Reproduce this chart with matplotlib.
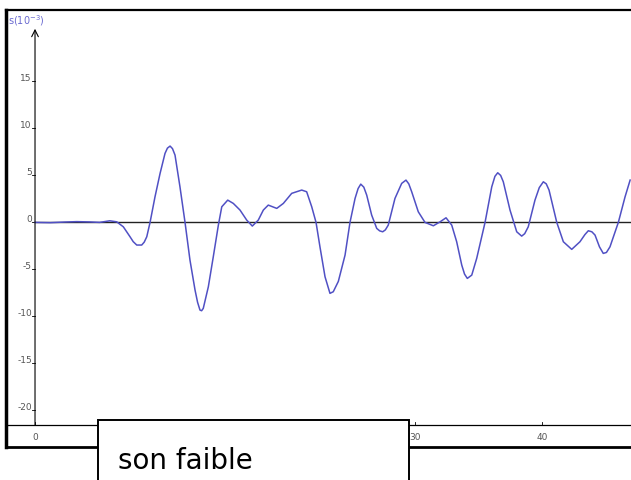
import matplotlib
matplotlib.use("Agg")
import matplotlib.pyplot as plt
from matplotlib.patches import Rectangle

# signal s (x 10^-3) against time, read point by point
t = [0, 1.2, 2.4, 3.3, 4.3, 5.1, 5.9, 6.45, 6.97, 7.50, 7.75, 8.03, 8.42, 8.62,
     8.82, 9.08, 9.47, 9.87, 10.26, 10.45, 10.66, 10.85, 11.05, 11.44, 11.84,
     12.23, 12.63, 12.83, 13.02, 13.15, 13.28, 13.68, 14.07, 14.47, 14.74, 15.21,
     15.65, 16.18, 16.71, 17.15, 17.62, 18.02, 18.41, 19.08, 19.60, 20.26, 21.05,
     21.44, 21.84, 22.18, 22.49, 22.89, 23.28, 23.54, 23.94, 24.47, 24.86, 25.26,
     25.5, 25.71, 25.95, 26.18, 26.57, 26.97, 27.2, 27.44, 27.65, 27.88, 28.41,
     28.94, 29.28, 29.5, 29.73, 30.25, 30.78, 31.44, 31.97, 32.44, 32.89, 33.28,
     33.68, 33.9, 34.12, 34.47, 34.86, 35.52, 36.05, 36.3, 36.52, 36.75, 36.96,
     37.49, 38.02, 38.41, 38.65, 38.93, 39.46, 39.8, 40.12, 40.35, 40.57, 41.18,
     41.70, 42.36, 43.01, 43.4, 43.67, 43.95, 44.20, 44.55, 44.85, 45.1, 45.38,
     46.04, 46.57, 46.97]
s = [0, -0.03, 0.04, 0.08, 0.05, 0.0, 0.17, 0.06, -0.47, -1.53, -2.05, -2.41,
     -2.41, -2.1, -1.53, 0, 2.72, 5.21, 7.34, 7.9, 8.12, 7.85, 7.16, 3.79, 0,
     -4.01, -7.20, -8.5, -9.33, -9.4, -9.15, -6.85, -3.66, -0.3, 1.66, 2.37,
     2.02, 1.31, 0.24, -0.39, 0.24, 1.31, 1.84, 1.49, 2.02, 3.09, 3.44, 3.26,
     1.66, 0, -2.60, -5.79, -7.55, -7.38, -6.28, -3.48, 0, 2.55, 3.6, 4.07, 3.75,
     2.90, 0.78, -0.64, -0.9, -1.00, -0.8, -0.29, 2.55, 4.15, 4.50, 4.1, 3.26,
     1.13, 0, -0.36, 0.06, 0.49, -0.29, -2.06, -4.54, -5.5, -5.96, -5.61, -3.83,
     0, 3.79, 4.9, 5.28, 5.0, 4.32, 1.31, -1.00, -1.46, -1.2, -0.47, 2.37, 3.7,
     4.32, 4.1, 3.44, 0, -2.06, -2.87, -2.06, -1.3, -0.89, -1.0, -1.35, -2.6,
     -3.30, -3.2, -2.60, 0, 2.72, 4.50]

yticks = [15, 10, 5, 0, -5, -10, -15, -20]
xticks = [0, 10, 20, 30, 40]
ylabel = r's(10$^{-3}$)'
caption = 'son faible'

W, H = 631, 480
fig = plt.figure(figsize=(W / 100, H / 100), dpi=100)
ax = fig.add_axes([6 / W, (H - 447) / H, 1.0, (447 - 10) / H])

tmin, tmax = -2.29, -2.29 + W / 12.67
smin, smax = -23.9, 22.6
ax.set_xlim(tmin, tmax)
ax.set_ylim(smin, smax)
ax.set_xticks([])
ax.set_yticks([])
for side in ['left', 'bottom', 'top', 'right']:
    ax.spines[side].set_color('black')
ax.spines['left'].set_linewidth(2.5)
ax.spines['bottom'].set_linewidth(2.0)
ax.spines['top'].set_linewidth(1.6)
ax.spines['right'].set_visible(False)

ybase = -21.6
txt = '#555555'

# axis lines
ax.axhline(ybase, color='black', lw=0.9)
ax.annotate('', xy=(0, 20.6), xytext=(0, ybase),
            arrowprops=dict(arrowstyle='->', lw=0.8, color='black',
                            mutation_scale=12, shrinkA=0, shrinkB=0))
ax.plot([0, tmax], [0, 0], color='#222222', lw=1.0)

for v in yticks:
    ax.plot([-0.2, 0], [v, v], color='black', lw=0.6)
    ax.text(-0.25, v, str(v), ha='right', va='baseline', fontsize=6.5, color=txt)
for v in xticks:
    ax.plot([v, v], [ybase, ybase + 0.35], color='black', lw=0.6)
    ax.text(v, ybase - 1.3, str(v), ha='center', va='center', fontsize=6.5, color=txt)

ax.text(-2.1, 21.5, ylabel, ha='left', va='center', fontsize=7, color='#6a6ad0')

ax.plot(t, s, color='#5050c4', lw=1.1)

# caption box overlapping the bottom of the frame
box = Rectangle((98 / W, -0.02), (409 - 98) / W, (H - 420) / H + 0.02,
                transform=fig.transFigure, facecolor='white', edgecolor='black',
                lw=1.4, zorder=10)
fig.patches.append(box)
fig.text(118 / W, (H - 461) / H, caption, ha='left', va='center', fontsize=20,
         family='DejaVu Sans', color='black', zorder=11)

fig.savefig('out.png', dpi=100)
